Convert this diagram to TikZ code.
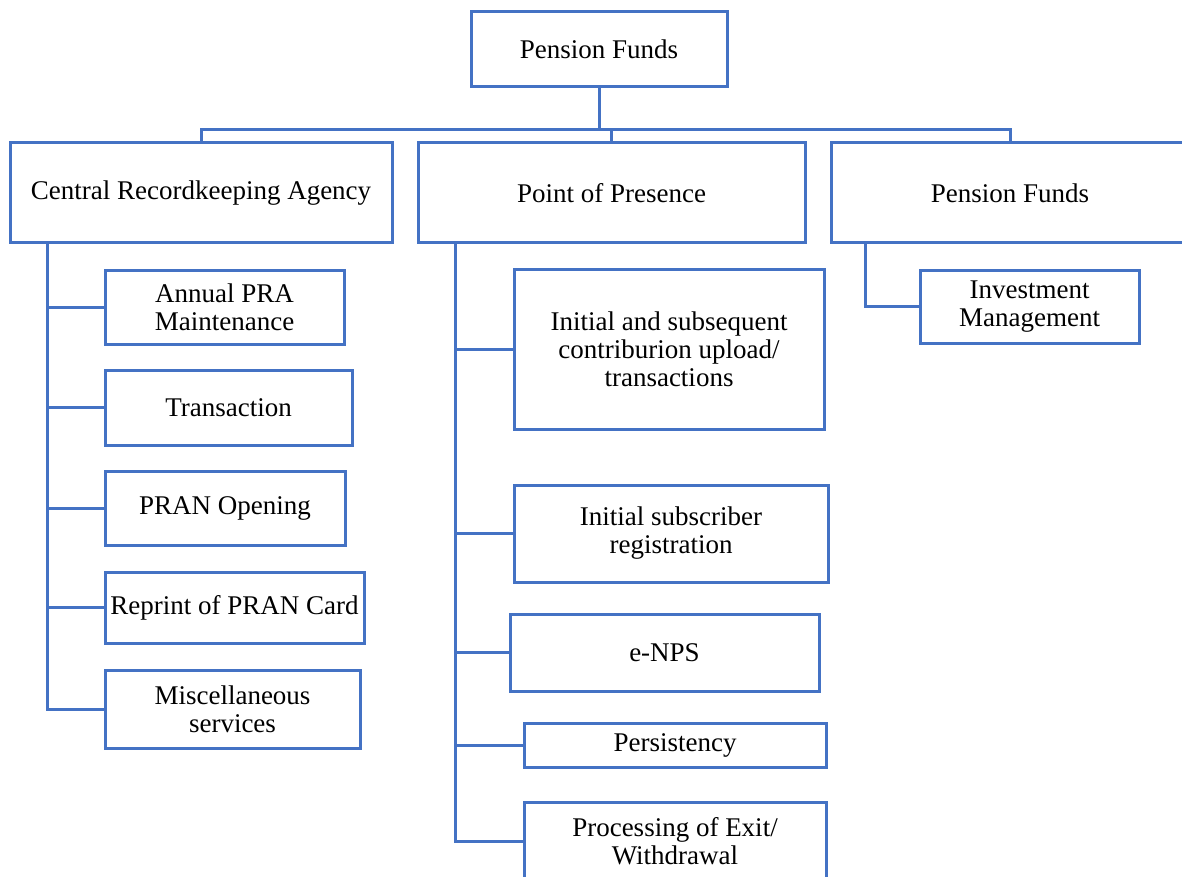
\documentclass[tikz,border=0pt]{standalone}
\usepackage{fontspec}
\setmainfont{Liberation Serif}
\usepackage{tikz}
\usetikzlibrary{calc}

\definecolor{boxblue}{HTML}{4472C4}

\begin{document}
\begin{tikzpicture}[x=1pt, y=-1pt,
    box/.style={draw=boxblue, line width=3pt, rectangle, align=center, inner sep=0pt,
        font=\fontsize{27}{28}\selectfont},
    link/.style={draw=boxblue, line width=3pt}]
        \useasboundingbox (0,0) rectangle (1182,877);

        \node[box, minimum width=256pt, minimum height=75pt] (top) at (599,49.5) {Pension Funds};
        \node[box, minimum width=382pt, minimum height=100pt] (cra) at (201,193) {Central Recordkeeping Agency};
        \node[box, minimum width=387pt, minimum height=100pt] (pop) at (611.5,193) {Point of Presence};
        \node[box, minimum width=358pt, minimum height=100pt] (pf) at (1010,193) {Pension Funds};

        \coordinate (bus) at (0,130);
        \draw[link] (top.south) -- (top.south |- bus);
        \draw[link] (cra.north) -- (cra.north |- bus) -- (pf.north |- bus) -- (pf.north);
        \draw[link] (pop.north) -- (pop.north |- bus);

        % central recordkeeping agency
        \node[box, minimum width=239pt, minimum height=74pt] (annual) at (224.5,307) {Annual PRA\\Maintenance};
        \node[box, minimum width=247pt, minimum height=75pt] (trans) at (228.5,407.5) {Transaction};
        \node[box, minimum width=240pt, minimum height=74pt] (pran) at (225,508) {PRAN Opening};
        \node[box, minimum width=259pt, minimum height=71pt] (reprint) at (234.5,607.5) {Reprint of PRAN Card};
        \node[box, minimum width=255pt, minimum height=78pt] (misc) at (232.5,709) {Miscellaneous\\services};
        \foreach \n in {annual,trans,pran,reprint,misc}
            \draw[link] (cra.south west) ++(39,0) |- (\n.west);

        % point of presence
        \node[box, minimum width=310pt, minimum height=160pt] (upload) at (669,349) {Initial and subsequent\\contriburion upload/\\transactions};
        \node[box, minimum width=314pt, minimum height=97pt] (regist) at (671,533.5) {Initial subscriber\\registration};
        \node[box, minimum width=309pt, minimum height=77pt] (enps) at (664.5,652.5) {e-NPS};
        \node[box, minimum width=302pt, minimum height=44pt] (persist) at (675,745) {Persistency};
        \node[box, minimum width=302pt, minimum height=78pt] (exit) at (675,841) {Processing of Exit/\\Withdrawal};
        \foreach \n in {upload,regist,enps,persist,exit}
            \draw[link] (pop.south west) ++(39,0) |- (\n.west);

        % pension funds
        \node[box, minimum width=219pt, minimum height=73pt] (invest) at (1029.5,306.5) {Investment\\Management};
        \draw[link] (pf.south west) ++(36,0) |- (invest.west);
    \end{tikzpicture}
\end{document}
